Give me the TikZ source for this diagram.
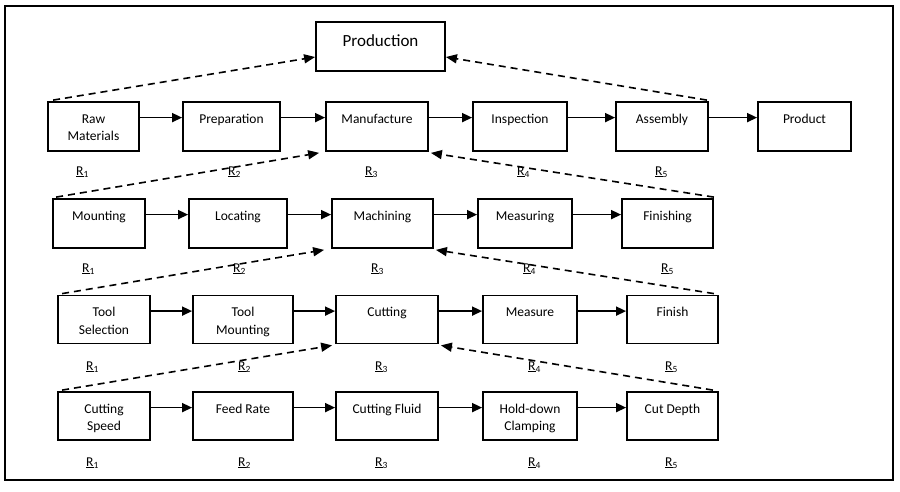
\documentclass[tikz,border=0pt]{standalone}
\usepackage{fontspec}
\setmainfont{Carlito}
\usetikzlibrary{arrows.meta}
\newcommand\mkbox[6]{%
  \node[boxs, minimum width={#4-#2}, minimum height={#5-#3}] (#1) at ({(#2+#4)/2},{(#3+#5)/2}) {};
  \node[txt, anchor=north] (#1t) at ([yshift=-9.75pt]#1.north) {\strut #6};
}
\newcommand\mkR[4]{%
  \node[rlab, anchor=base west] (#1) at (#2,#3) {\underline{R}\textsubscript{#4}};
}
\begin{document}
\begin{tikzpicture}[x=1pt,y=-1pt,
  boxs/.style={draw, line width=1.8pt, inner sep=0pt, fill=white},
  txt/.style={inner sep=0pt, align=center, font=\fontsize{13.5}{17.5}\selectfont},
  rlab/.style={inner sep=0pt, font=\fontsize{13.5}{17.5}\selectfont},
  arr/.style={line width=1.6pt, -{Triangle[length=10pt,width=9pt]}},
  darr/.style={line width=1.6pt, dash pattern=on 7pt off 5pt, -{Triangle[length=11pt,width=9pt]}}
]
\useasboundingbox (0,0) rectangle (900,491);
\draw[line width=1.8pt] (5,6) rectangle (893,480);

% Production
\node[boxs, minimum width=129, minimum height=49] (top) at (380.5,46.5) {};
\node[inner sep=0pt, font=\fontsize{17}{20}\selectfont, anchor=base] (topt) at (380.5,46.5) {Production};

% Row 1
\mkbox{raw}{48}{102}{139}{151}{Raw\\Materials}
\mkbox{prep}{183}{102}{280}{151}{Preparation}
\mkbox{manu}{326}{102}{428}{151}{Manufacture}
\mkbox{insp}{473}{102}{567}{151}{Inspection}
\mkbox{asm}{616}{102}{708}{151}{Assembly}
\mkbox{prod}{758}{102}{851}{151}{Product}

% Row 2
\mkbox{mount}{53}{199}{145}{248}{Mounting}
\mkbox{loc}{189}{199}{287}{248}{Locating}
\mkbox{mach}{332}{199}{433}{248}{Machining}
\mkbox{meas}{478}{199}{572}{248}{Measuring}
\mkbox{fin}{622}{199}{713}{248}{Finishing}

% Row 3
\mkbox{tsel}{58}{295.5}{150}{343.5}{Tool\\Selection}
\mkbox{tmnt}{193}{295.5}{293}{343.5}{Tool\\Mounting}
\mkbox{cut}{336}{295.5}{438}{343.5}{Cutting}
\mkbox{msr}{483}{295.5}{577}{343.5}{Measure}
\mkbox{fsh}{627}{295.5}{718}{343.5}{Finish}

% Row 4
\mkbox{cspd}{58}{392}{150}{440}{Cutting\\Speed}
\mkbox{feed}{193}{392}{293}{440}{Feed Rate}
\mkbox{fluid}{336}{392}{438}{440}{Cutting Fluid}
\mkbox{hold}{483}{392}{577}{440}{Hold-down\\Clamping}
\mkbox{depth}{627}{392}{718}{440}{Cut Depth}

% Solid arrows
\foreach \a/\b in {raw/prep,prep/manu,manu/insp,insp/asm,asm/prod,
                   mount/loc,loc/mach,mach/meas,meas/fin,
                   tsel/tmnt,tmnt/cut,cut/msr,msr/fsh,
                   cspd/feed,feed/fluid,fluid/hold,hold/depth}
  \draw[arr] ([yshift=-16.5pt]\a.north east) -- ([yshift=-16.5pt]\b.north west);

% Dashed arrows
\draw[darr] ([xshift=6pt,yshift=1pt]raw.north west) -- ([yshift=-10.5pt]top.west);
\draw[darr] ([xshift=-2pt,yshift=1pt]asm.north east) -- ([yshift=-10.5pt]top.east);
\draw[darr] ([xshift=4pt,yshift=1pt]mount.north west) -- ([xshift=-6pt,yshift=-1pt]manu.south west);
\draw[darr] ([xshift=0pt,yshift=1pt]fin.north east) -- ([xshift=2pt,yshift=-1pt]manu.south east);
\draw[darr] ([xshift=5pt,yshift=1pt]tsel.north west) -- ([xshift=-7pt,yshift=-1pt]mach.south west);
\draw[darr] ([xshift=-5pt,yshift=1pt]fsh.north east) -- ([xshift=2pt,yshift=-1pt]mach.south east);
\draw[darr] ([xshift=5pt,yshift=1pt]cspd.north west) -- ([xshift=-3pt,yshift=-1pt]cut.south west);
\draw[darr] ([xshift=-6pt,yshift=1pt]depth.north east) -- ([xshift=2pt,yshift=-1pt]cut.south east);

% R labels
\mkR{ra1}{76}{175}{1}\mkR{ra2}{228}{175}{2}\mkR{ra3}{365}{175}{3}\mkR{ra4}{517}{175}{4}\mkR{ra5}{655}{175}{5}
\mkR{rb1}{82}{272}{1}\mkR{rb2}{233}{272}{2}\mkR{rb3}{371}{272}{3}\mkR{rb4}{523}{272}{4}\mkR{rb5}{661}{272}{5}
\mkR{rc1}{86}{370}{1}\mkR{rc2}{238}{370}{2}\mkR{rc3}{375}{370}{3}\mkR{rc4}{528}{370}{4}\mkR{rc5}{665}{370}{5}
\mkR{rd1}{86}{466}{1}\mkR{rd2}{238}{466}{2}\mkR{rd3}{375}{466}{3}\mkR{rd4}{528}{466}{4}\mkR{rd5}{665}{466}{5}
\end{tikzpicture}
\end{document}
